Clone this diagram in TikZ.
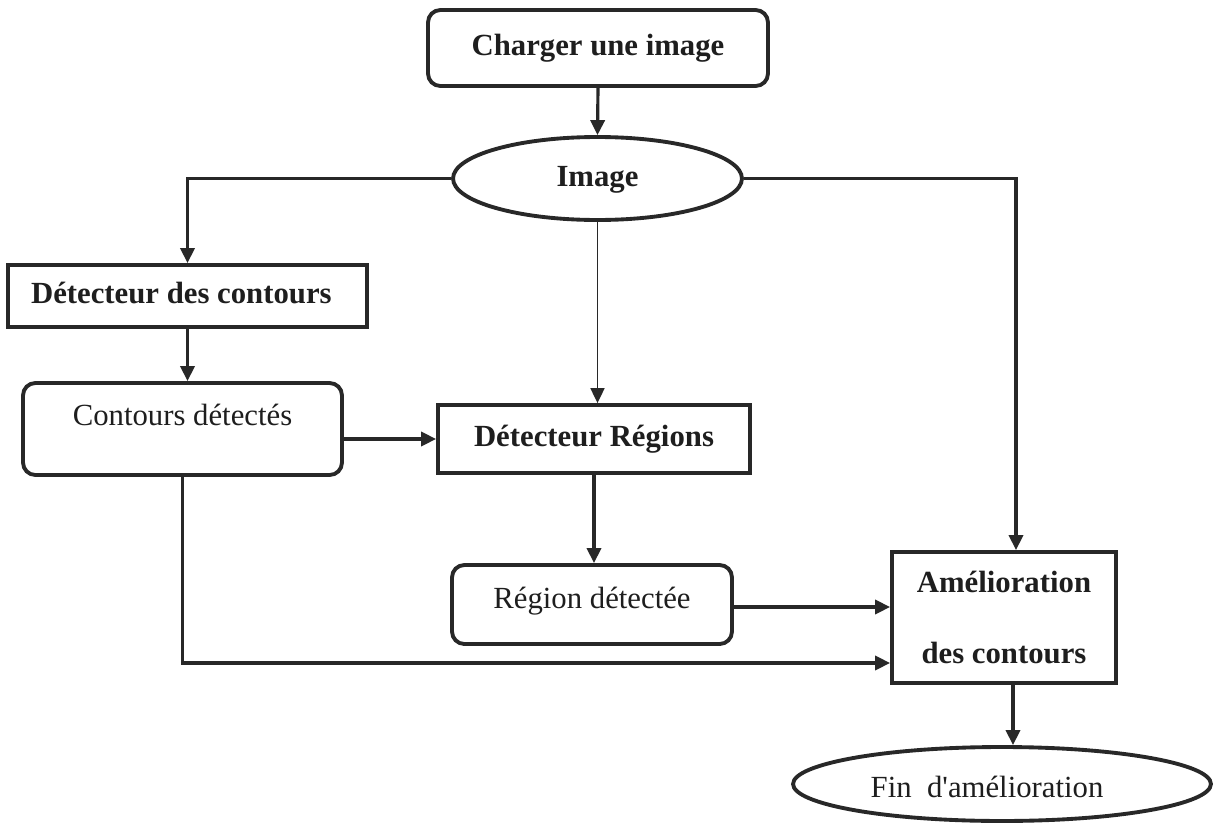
\documentclass[tikz,border=0pt]{standalone}
\usepackage{fontspec}
\setmainfont{Liberation Serif}
\newfontfamily\plainserif{Liberation Serif}[Ligatures=TeXOff]
\usetikzlibrary{arrows.meta,shapes.geometric}
\definecolor{ink}{RGB}{40,40,40}
\definecolor{txt}{RGB}{30,30,30}
\tikzset{
  base/.style={draw=ink, line width=2.2pt, inner sep=0pt, text=txt,
    font=\fontsize{17.5}{21}\selectfont},
  oneline/.style={text height=13pt, text depth=4pt},
  bbox/.style={base, rectangle, font=\fontsize{17.5}{21}\selectfont\bfseries},
  rbox/.style={base, oneline, rectangle, rounded corners=7pt},
  oval/.style={base, oneline, ellipse},
  conn/.style={draw=ink, line width=1.8pt, -{Triangle[length=8.5pt,width=8pt]}},
  thinconn/.style={draw=ink, line width=0.9pt, -{Triangle[length=8.5pt,width=8pt]}}
}
\begin{document}
\begin{tikzpicture}[x=0.02cm,y=-0.02cm]
\useasboundingbox[fill=white] (0,0) rectangle (1215,825);

\node[rbox, font=\fontsize{17.5}{21}\selectfont\bfseries, minimum width=6.8cm, minimum height=1.52cm] (charger) at (598,48) {Charger une image};
\node[oval, font=\fontsize{17.5}{21}\selectfont\bfseries, minimum width=5.78cm, minimum height=1.66cm] (image) at (597.5,178.5) {Image};
\node[bbox, oneline, minimum width=7.18cm, minimum height=1.24cm] (detc) at (187.5,296) {Détecteur des contours\kern7pt};
\node[rbox, minimum width=6.38cm, minimum height=1.84cm, text depth=17pt] (contd) at (182.5,429) {Contours détectés};
\node[bbox, oneline, minimum width=6.24cm, minimum height=1.36cm] (detr) at (594,439) {Détecteur Régions};
\node[rbox, minimum width=5.6cm, minimum height=1.58cm, text depth=8pt] (regd) at (592,604.5) {Région détectée};
\node[bbox, align=center, minimum width=4.48cm, minimum height=2.62cm] (amel) at (1004,617.5) {Amélioration\\[19.8pt]des contours};
\node[oval, font=\plainserif\fontsize{17.5}{21}\selectfont, minimum width=8.36cm, minimum height=1.48cm, text height=15pt, text depth=0pt] (fin) at (1002,784) {Fin\ \ d'amélioration\kern17pt};

\draw[conn] (charger.south) -- (image.north);
\draw[conn] (image.west) -| (detc.north);
\draw[conn] (image.east) -| ([xshift=0.24cm]amel.north);
\draw[thinconn] (image.south) -- (image.south |- detr.north);
\draw[conn] (detc.south) -- (detc.south |- contd.north);
\draw[conn] (contd.east |- detr.west) -- (detr.west);
\draw[conn] (contd.south) |- ([yshift=-0.91cm]amel.west);
\draw[conn] (detr.south) -- (detr.south |- regd.north);
\draw[conn] ([yshift=-0.05cm]regd.east) -- ([yshift=-0.05cm]regd.east -| amel.west);
\draw[conn] ([xshift=0.18cm]amel.south) -- ([xshift=0.18cm]amel.south |- fin.north);
\end{tikzpicture}
\end{document}
